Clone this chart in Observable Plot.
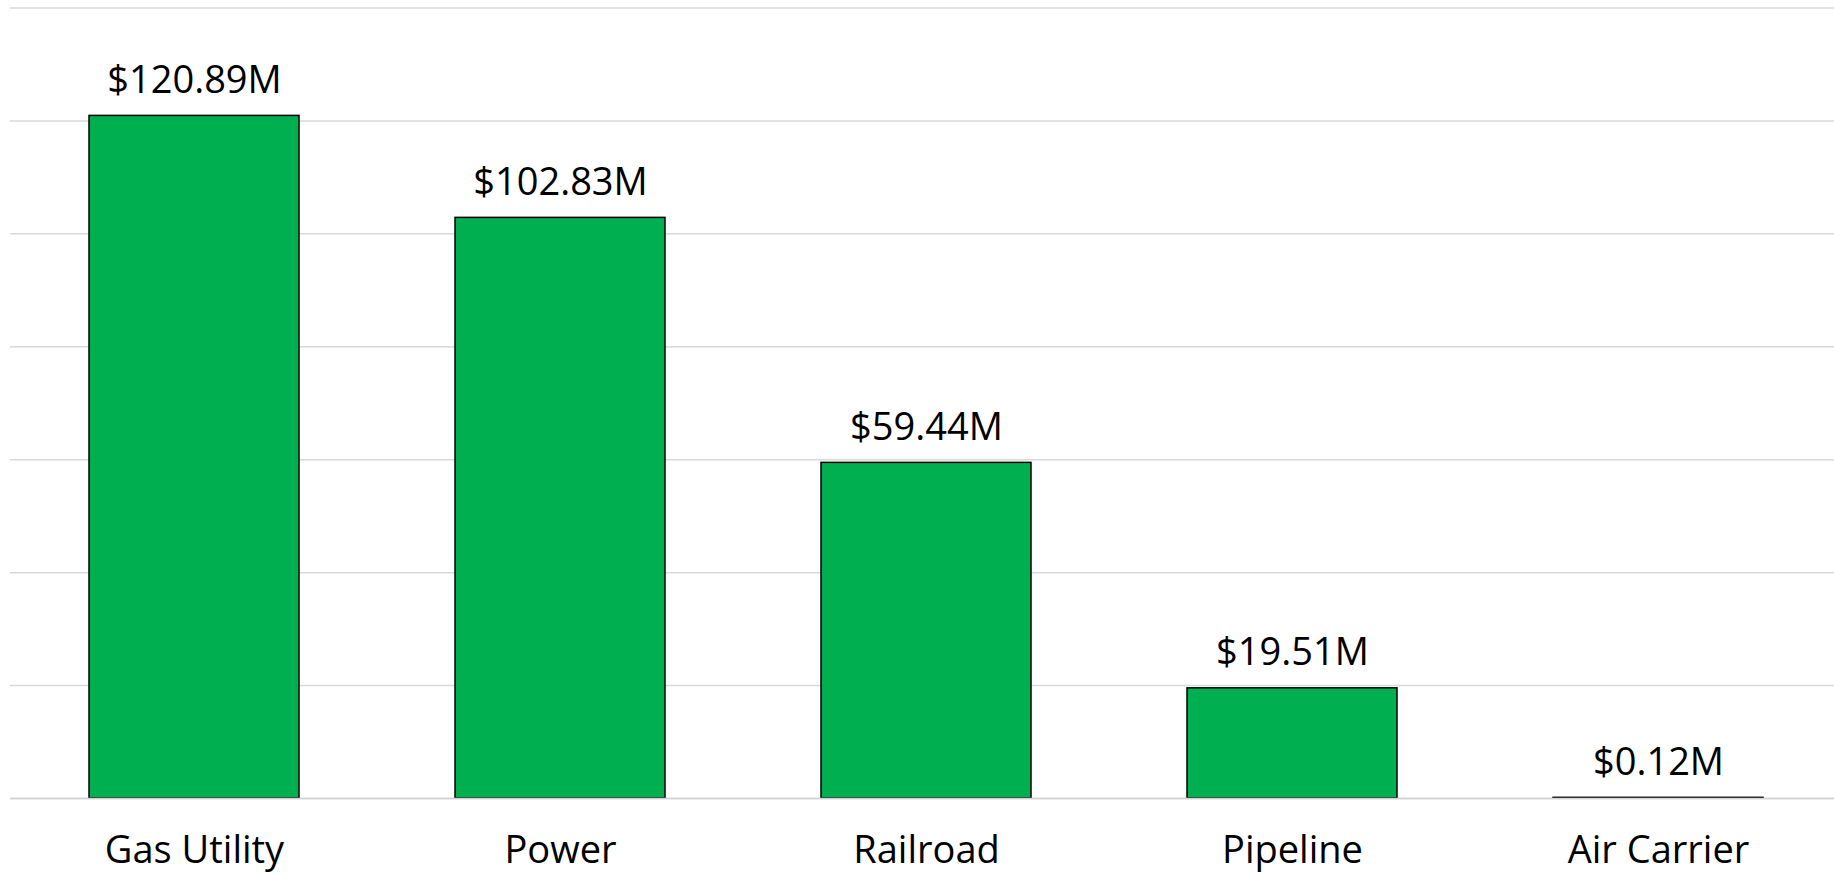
<!DOCTYPE html>
<html>
<head>
<meta charset="utf-8">
<script src="https://cdn.jsdelivr.net/npm/d3@7"></script>
<script src="https://cdn.jsdelivr.net/npm/@observablehq/plot@0.6"></script>
<style>
  html, body { margin: 0; padding: 0; background: #fff; overflow: hidden; }
</style>
</head>
<body>
<div id="chart"></div>
<script>
const categories = ["Gas Utility", "Power", "Railroad", "Pipeline", "Air Carrier"];
const values = [120.89, 102.83, 59.44, 19.51, 0.12];
const valueLabels = ["$120.89M", "$102.83M", "$59.44M", "$19.51M", "$0.12M"];
const yTicks = [0, 20, 40, 60, 80, 100, 120, 140];

const data = categories.map((c, i) => ({category: c, value: values[i], label: valueLabels[i]}));

const chart = Plot.plot({
  width: 1834,
  height: 876,
  marginTop: 7.5,
  marginBottom: 78,
  marginLeft: 10,
  marginRight: 0,
  style: {fontFamily: "'Open Sans', sans-serif", fontSize: "38px", background: "#fff", color: "#000"},
  x: {domain: categories, range: [9.7, 1842.7], paddingInner: 0.427, paddingOuter: 0.2135, label: null},
  y: {domain: [0, 140], label: null, axis: null},
  marks: [
    Plot.ruleY(yTicks, {stroke: "#d9d9d9", strokeWidth: 1.5}),
    Plot.barY(data, {x: "category", y: "value", fill: "#00B050", stroke: "#000", strokeWidth: 1.5}),
    Plot.ruleY([0], {stroke: "#d0d0d0", strokeWidth: 1.5}),
    Plot.text(data, {x: "category", y: "value", text: "label", lineAnchor: "bottom", dy: -23, fill: "#000", fontSize: 38}),
    Plot.axisX({tickSize: 0, tickPadding: 38, fontSize: 38, fill: "#000"})
  ]
});
document.getElementById("chart").append(chart);
</script>
</body>
</html>
